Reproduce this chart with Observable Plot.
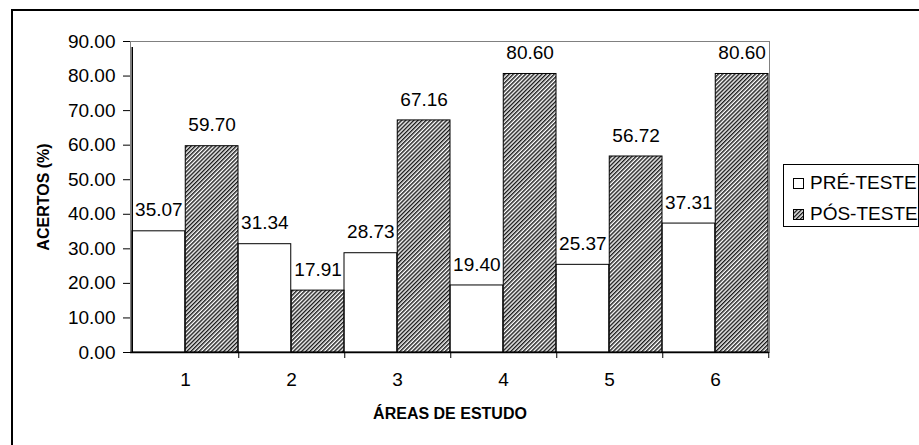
<!DOCTYPE html>
<html>
<head>
<meta charset="utf-8">
<script src="https://cdn.jsdelivr.net/npm/d3@7"></script>
<script src="https://cdn.jsdelivr.net/npm/@observablehq/plot@0.6"></script>
<style>
  html, body { margin: 0; padding: 0; background: #fff; overflow: hidden; }
  #wrap { position: relative; width: 919px; height: 445px; overflow: hidden; font-family: "Liberation Sans", Arial, sans-serif; }
  #border { position: absolute; left: 11px; top: 9px; width: 1000px; height: 1000px; border: 2px solid #000; box-sizing: border-box; }
  #chart { position: absolute; left: 0; top: 0; }
  #legend { position: absolute; left: 783px; top: 164px; width: 136px; height: 63px; border: 1px solid #000; box-sizing: border-box; background: #fff; font-size: 19px; color: #000; }
  .item { position: absolute; left: 9px; display: flex; align-items: center; height: 22px; white-space: nowrap; }
  .item svg { margin-right: 6px; }
</style>
</head>
<body>
<div id="wrap">
  <div id="border"></div>
  <div id="chart"></div>
  <div id="legend"></div>
</div>
<script>
// Áreas de estudo and percentage of correct answers before / after
const areas = ["1", "2", "3", "4", "5", "6"];
const series = ["PRÉ-TESTE", "PÓS-TESTE"];
const preTeste = [35.07, 31.34, 28.73, 19.40, 25.37, 37.31];
const posTeste = [59.70, 17.91, 67.16, 80.60, 56.72, 80.60];
const yTicks = [0, 10, 20, 30, 40, 50, 60, 70, 80, 90];

const rows = areas.flatMap((area, i) => [
  {area, serie: series[0], value: preTeste[i]},
  {area, serie: series[1], value: posTeste[i]}
]);
const preRows = rows.filter(d => d.serie === series[0]);
const posRows = rows.filter(d => d.serie === series[1]);

const W = 919, H = 445;
const mL = 130, mR = 150, mT = 41, mB = 93;
const band = (W - mL - mR) / areas.length;
const half = band / 2;

const fills = {"PRÉ-TESTE": "#fff", "PÓS-TESTE": "url(#hatch)"};
const fmt = d => d.value.toFixed(2);

const chart = Plot.plot({
  width: W,
  height: H,
  marginLeft: mL,
  marginRight: mR,
  marginTop: mT,
  marginBottom: mB,
  style: {fontFamily: "'Liberation Sans', Arial, sans-serif", fontSize: "19px", color: "#000", background: "transparent"},
  x: {domain: areas, padding: 0},
  y: {domain: [0, 90]},
  marks: [
    Plot.frame({stroke: "#808080"}),
    Plot.barY(preRows, {x: "area", y: "value", fill: fills[series[0]], stroke: "#000", strokeWidth: 1, insetRight: half}),
    Plot.barY(posRows, {x: "area", y: "value", fill: fills[series[1]], stroke: "#000", strokeWidth: 1, insetLeft: half}),
    // category boundary ticks and left axis line
    Plot.ruleX(areas, {x: d => d, dx: half, y1: 0, y2: 0, insetBottom: -6, stroke: "#000"}),
    Plot.ruleX(areas.slice(0, 1), {x: d => d, dx: -half, y1: 0, y2: 90, insetBottom: -6, stroke: "#000", strokeWidth: 1.5}),
    Plot.ruleY([0], {stroke: "#000", strokeWidth: 1.5}),
    Plot.axisY({ticks: yTicks, tickFormat: d => d.toFixed(2), tickSize: 7, tickPadding: 8, label: null, stroke: "#000"}),
    Plot.axisX({tickSize: 0, tickPadding: 20, label: null}),
    // value labels above each bar
    Plot.text(preRows, {x: "area", y: "value", text: fmt, dx: -half / 2, dy: -21, lineAnchor: "middle", fill: "#000"}),
    Plot.text(posRows, {x: "area", y: "value", text: fmt, dx: half / 2, dy: -21, lineAnchor: "middle", fill: "#000"}),
    Plot.text(["ÁREAS DE ESTUDO"], {frameAnchor: "bottom", dy: 61, fontWeight: "bold", fontSize: 16, lineAnchor: "middle", textAnchor: "middle"}),
    Plot.text(["ACERTOS (%)"], {frameAnchor: "left", dx: -87, rotate: -90, fontWeight: "bold", fontSize: 16, lineAnchor: "middle", textAnchor: "middle"})
  ]
});

const svg = d3.select(chart);
const defs = svg.insert("defs", ":first-child");
defs.append("pattern")
  .attr("id", "hatch")
  .attr("patternUnits", "userSpaceOnUse")
  .attr("width", 2.9)
  .attr("height", 10)
  .attr("patternTransform", "rotate(45)")
  .append("rect")
  .attr("width", 1.45)
  .attr("height", 10)
  .attr("fill", "#1a1a1a");

document.getElementById("chart").appendChild(chart);

// legend
const legend = d3.select("#legend");
series.forEach((s, i) => {
  const item = legend.append("div").attr("class", "item").style("top", (7 + i * 31) + "px");
  const sw = item.append("svg").attr("width", 11).attr("height", 11);
  if (i === 1) {
    const p = sw.append("defs").append("pattern")
      .attr("id", "hatchLegend").attr("patternUnits", "userSpaceOnUse")
      .attr("width", 2.9).attr("height", 10).attr("patternTransform", "rotate(45)");
    p.append("rect").attr("width", 1.45).attr("height", 10).attr("fill", "#1a1a1a");
  }
  sw.append("rect").attr("x", 0.5).attr("y", 0.5).attr("width", 10).attr("height", 10)
    .attr("fill", i === 1 ? "url(#hatchLegend)" : "#fff").attr("stroke", "#000");
  item.append("span").text(s);
});
</script>
</body>
</html>
